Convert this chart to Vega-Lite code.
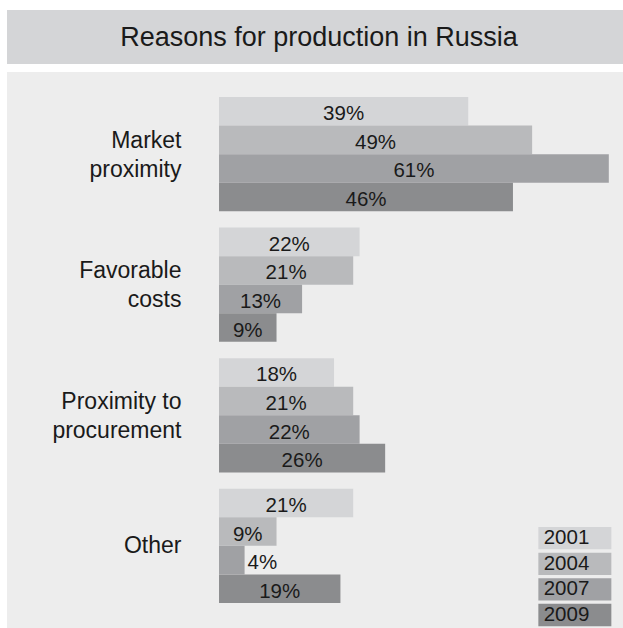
{
  "$schema": "https://vega.github.io/schema/vega-lite/v6.json",
  "padding": {"left": 7, "top": 10, "right": 0, "bottom": 0},
  "background": "#ffffff",
  "spacing": 8,
  "config": {
    "view": {"stroke": null},
    "font": "Liberation Sans"
  },
  "vconcat": [
    {
      "width": 616,
      "height": 54,
      "view": {"fill": "#d4d5d7", "stroke": null},
      "data": {"values": [{"title": "Reasons for production in Russia"}]},
      "mark": {"type": "text", "font": "Liberation Sans", "fontSize": 27, "color": "#1a1a1a", "baseline": "middle", "align": "center", "dx": 4, "dy": 1},
      "encoding": {"text": {"field": "title"}}
    },
    {
      "width": 616,
      "height": 556,
      "view": {"fill": "#ededed", "stroke": null},
      "data": {
        "values": [
          {"category": "Market proximity", "year": "2001", "value": 39},
          {"category": "Market proximity", "year": "2004", "value": 49},
          {"category": "Market proximity", "year": "2007", "value": 61},
          {"category": "Market proximity", "year": "2009", "value": 46},
          {"category": "Favorable costs", "year": "2001", "value": 22},
          {"category": "Favorable costs", "year": "2004", "value": 21},
          {"category": "Favorable costs", "year": "2007", "value": 13},
          {"category": "Favorable costs", "year": "2009", "value": 9},
          {"category": "Proximity to procurement", "year": "2001", "value": 18},
          {"category": "Proximity to procurement", "year": "2004", "value": 21},
          {"category": "Proximity to procurement", "year": "2007", "value": 22},
          {"category": "Proximity to procurement", "year": "2009", "value": 26},
          {"category": "Other", "year": "2001", "value": 21},
          {"category": "Other", "year": "2004", "value": 9},
          {"category": "Other", "year": "2007", "value": 4},
          {"category": "Other", "year": "2009", "value": 19}
        ]
      },
      "transform": [
        {"calculate": "datum.value / 2", "as": "mid"},
        {"calculate": "datum.value + '%'", "as": "label"}
      ],
      "encoding": {
        "y": {
          "field": "category",
          "type": "nominal",
          "sort": ["Market proximity", "Favorable costs", "Proximity to procurement", "Other"],
          "scale": {"paddingInner": 0.125, "paddingOuter": 0.192},
          "axis": {
            "title": null,
            "orient": "left",
            "offset": -174,
            "domain": false,
            "ticks": false,
            "tickSize": 0,
            "grid": false,
            "labelPadding": 0,
            "labelAlign": "right",
            "labelBaseline": "middle",
            "labelOffset": {"condition": {"test": "datum.value == 'Other'", "value": 0}, "value": -13.5},
            "labelFont": "Liberation Sans",
            "labelFontSize": 23,
            "labelLineHeight": 29,
            "labelColor": "#1a1a1a",
            "labelLimit": 300,
            "labelExpr": "datum.value == 'Market proximity' ? ['Market', 'proximity'] : datum.value == 'Favorable costs' ? ['Favorable', 'costs'] : datum.value == 'Proximity to procurement' ? ['Proximity to', 'procurement'] : datum.value"
          }
        },
        "yOffset": {
          "field": "year",
          "type": "nominal",
          "scale": {"paddingInner": 0, "paddingOuter": 0}
        }
      },
      "layer": [
        {
          "mark": {"type": "bar", "opacity": 1},
          "encoding": {
            "x": {
              "field": "value",
              "type": "quantitative",
              "scale": {"domain": [-33.18, 63.22], "zero": false, "nice": false},
              "axis": null
            },
            "x2": {"datum": 0},
            "color": {
              "field": "year",
              "type": "nominal",
              "scale": {
                "domain": ["2001", "2004", "2007", "2009"],
                "range": ["#d4d5d7", "#b9babc", "#a0a1a4", "#8b8c8e"]
              },
              "legend": {
                "orient": "none",
                "legendX": 531,
                "legendY": 516.7,
                "title": null,
                "padding": 0,
                "symbolType": "M-1,-1H5.547V1H-1Z",
                "symbolSize": 497.29,
                "symbolStrokeWidth": 0,
                "symbolOpacity": 1,
                "symbolOffset": 0,
                "labelOffset": -17.3,
                "labelFont": "Liberation Sans",
                "labelFontSize": 20.5,
                "labelColor": "#1a1a1a",
                "rowPadding": 2.6
              }
            }
          }
        },
        {
          "transform": [{"filter": "datum.value >= 5"}],
          "mark": {"type": "text", "font": "Liberation Sans", "fontSize": 20.5, "color": "#1a1a1a", "align": "center", "baseline": "middle", "dy": 3},
          "encoding": {
            "x": {"field": "mid", "type": "quantitative"},
            "text": {"field": "label"}
          }
        },
        {
          "transform": [{"filter": "datum.value < 5"}],
          "mark": {"type": "text", "font": "Liberation Sans", "fontSize": 20.5, "color": "#1a1a1a", "align": "left", "baseline": "middle", "dx": 3, "dy": 3},
          "encoding": {
            "x": {"field": "value", "type": "quantitative"},
            "text": {"field": "label"}
          }
        }
      ]
    }
  ]
}
